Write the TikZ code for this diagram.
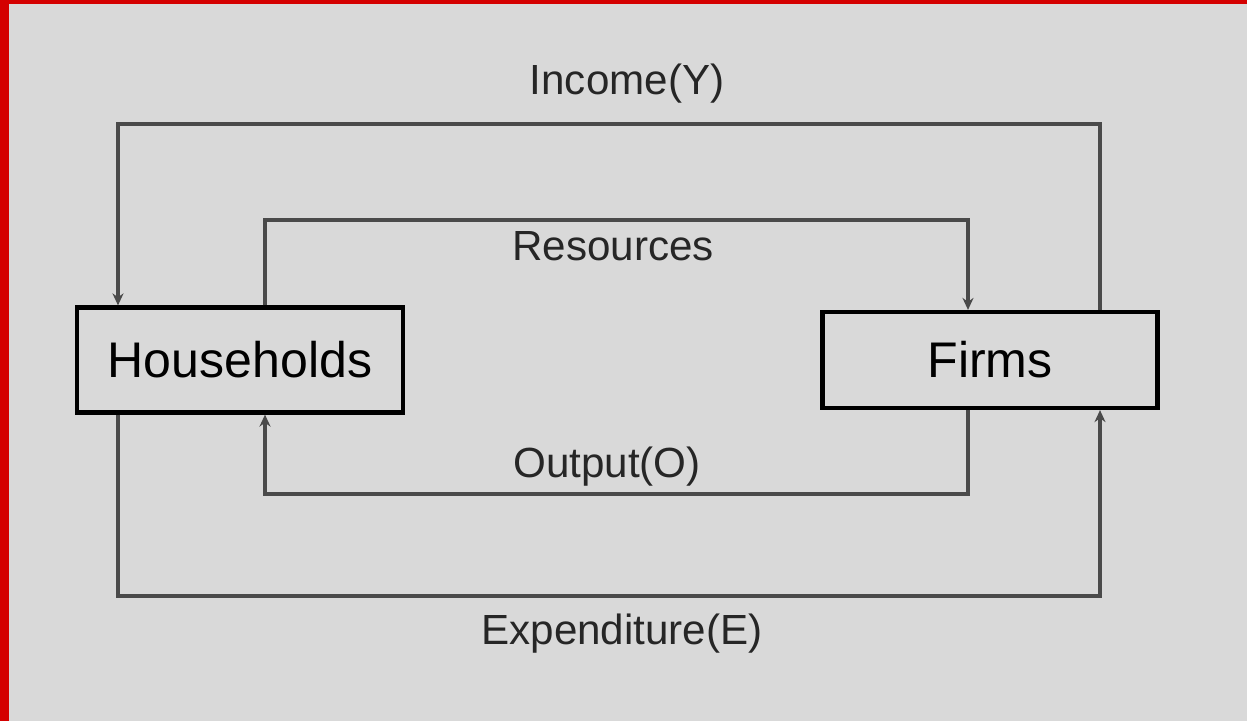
\documentclass[tikz,border=0pt]{standalone}
\usepackage{fontspec}
\setmainfont{Liberation Sans}
\usetikzlibrary{arrows.meta}
\definecolor{bggray}{HTML}{D9D9D9}
\definecolor{flowgray}{HTML}{4A4A4A}
\definecolor{edgered}{HTML}{D40000}

\begin{document}
\begin{tikzpicture}[x=0.02cm,y=-0.02cm,
    sector/.style={draw=black,line width=2.4pt,fill=bggray,inner sep=0pt,
      font=\fontsize{28.5}{30}\selectfont},
    flow/.style={draw=flowgray,line width=2pt,-{Stealth[length=2.4mm,width=2.2mm]}},
    flowlabel/.style={text=black!85,font=\fontsize{24}{26}\selectfont}]
      \fill[bggray] (0,0) rectangle (1247,721);
      \useasboundingbox (0,0) rectangle (1247,721);
      \fill[edgered] (0,0) rectangle (9,721);
      \fill[edgered] (0,0) rectangle (1247,4);
      % the two sectors
      \node[sector,minimum width=6.52cm,minimum height=2.1cm] (hh) at (240,360) {Households};
      \node[sector,minimum width=6.7cm,minimum height=1.92cm] (firms) at (990,360) {Firms};
      % corners of the loops
      \coordinate (incR) at (1100,124);
      \coordinate (incL) at (118,124);
      \coordinate (resL) at (265,220);
      \coordinate (resR) at (968,220);
      \coordinate (outR) at (968,494);
      \coordinate (outL) at (265,494);
      \coordinate (expL) at (118,596);
      \coordinate (expR) at (1100,596);
      \draw[flow] (firms.north -| incR) -- (incR) -- (incL) -- (incL |- hh.north);
      \draw[flow] (hh.north -| resL) -- (resL) -- (resR) -- (resR |- firms.north);
      \draw[flow] (firms.south -| outR) -- (outR) -- (outL) -- (outL |- hh.south);
      \draw[flow] (hh.south -| expL) -- (expL) -- (expR) -- (expR |- firms.south);
      % labels
      \node[flowlabel] (income) at (627,84) {Income(Y)};
      \node[flowlabel] (resources) at (613,246) {Resources};
      \node[flowlabel] (output) at (607,467) {Output(O)};
      \node[flowlabel] (expend) at (622,634) {Expenditure(E)};
    \end{tikzpicture}
\end{document}
